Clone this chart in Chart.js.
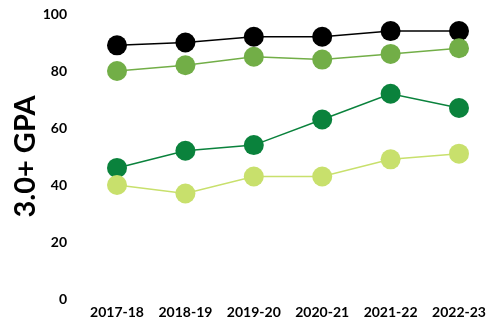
<!DOCTYPE html>
<html>
<head>
<meta charset="utf-8">
<script src="https://cdn.jsdelivr.net/npm/chart.js@4/dist/chart.umd.min.js"></script>
<style>
html,body{margin:0;padding:0;background:#fff;overflow:hidden;}
canvas{display:block;background:#fff;}
</style>
</head>
<body>
<canvas id="c" width="489" height="321" style="width:489px;height:321px;"></canvas>
<script>
const categories = ["2017-18","2018-19","2019-20","2020-21","2021-22","2022-23"];
const seriesBlack = [89, 90, 92, 92, 94, 94];
const seriesMidGreen = [80, 82, 85, 84, 86, 88];
const seriesDarkGreen = [46, 52, 54, 63, 72, 67];
const seriesLightGreen = [40, 37, 43, 43, 49, 51];
const yTicks = [0, 20, 40, 60, 80, 100];
const yTitle = "3.0+ GPA";

function ds(data, color) {
  return {
    data: data, borderColor: color, backgroundColor: color, pointBackgroundColor: color,
    pointBorderWidth: 0, pointRadius: 10, pointHoverRadius: 10, borderWidth: 1.5, tension: 0, fill: false
  };
}

new Chart(document.getElementById('c'), {
  type: 'line',
  data: {
    labels: categories,
    datasets: [
      ds(seriesLightGreen, '#C8E06C'), ds(seriesDarkGreen, '#0A823C'), ds(seriesMidGreen, '#72AE47'), ds(seriesBlack, '#000000')
    ]
  },
  options: {
    responsive: false, maintainAspectRatio: false, devicePixelRatio: 1, animation: false,
    layout: { autoPadding: false, padding: { top: 14, left: 8, right: 30, bottom: 0 } },
    plugins: { legend: { display: false }, tooltip: { enabled: false } },
    scales: {
      x: { offset: false, grid: { display: false, drawTicks: false }, border: { display: false },
        afterFit: (s) => { s.paddingLeft = 0; s.paddingRight = 0; s.height = 22; },
        ticks: { color: '#000', padding: 5, maxRotation: 0, autoSkip: false, font: { family: 'Lato', weight: 'bold', size: 14 } } },
      y: { min: 0, max: 100,
        afterBuildTicks: (s) => { s.ticks = yTicks.map(v => ({ value: v })); },
        afterFit: (s) => { s.width = 109; s.paddingTop = 0; s.paddingBottom = 0; },
        grid: { display: false, drawTicks: false }, border: { display: false },
        title: { display: true, text: yTitle, color: '#000', padding: { top: 0, bottom: 0 }, font: { family: 'Lato', weight: 'bold', size: 29 } },
        ticks: { color: '#000', padding: 50, font: { family: 'Lato', weight: 'bold', size: 14 } } }
    }
  }
});
</script>
</body>
</html>
